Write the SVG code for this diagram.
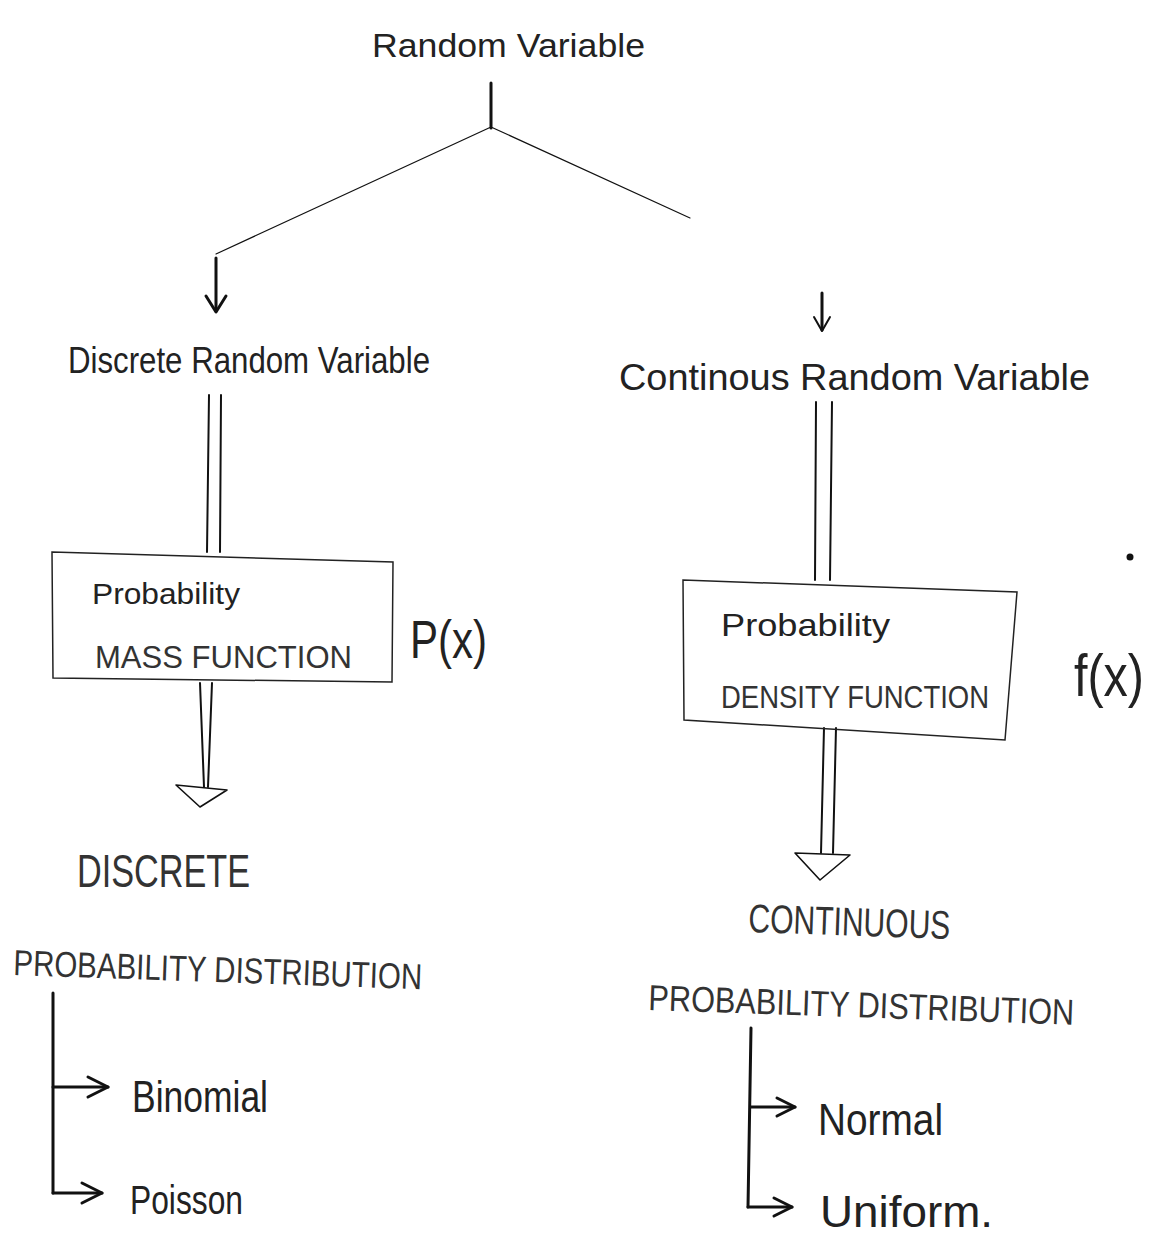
<svg xmlns="http://www.w3.org/2000/svg" width="1151" height="1238" viewBox="0 0 1151 1238">
<style>
.t{font-family:"Liberation Sans","DejaVu Sans",sans-serif;fill:#222;}
.c{fill:#333;}
.ln{stroke:#111;fill:none;stroke-linecap:round;stroke-linejoin:round;}
.thin{stroke-width:1.2;}
.mid{stroke-width:2;}
.thick{stroke-width:3;}
.box{stroke:#222;stroke-width:1.5;fill:none;}
.hol{stroke:#111;stroke-width:1.6;fill:#fff;stroke-linejoin:round;}
</style>
<rect width="1151" height="1238" fill="#fff"/>

<g id="connectors">
  <line class="ln thick" x1="491" y1="83" x2="491" y2="128"/>
  <line class="ln thin" x1="491" y1="127" x2="216" y2="254"/>
  <line class="ln thin" x1="491" y1="127" x2="690" y2="218" stroke="#666"/>
  <line class="ln thick" x1="216" y1="258" x2="216" y2="311"/>
  <path class="ln thick" d="M206,296 L216,312 L226,296"/>
  <line class="ln thick" x1="822" y1="293" x2="822" y2="330"/>
  <path class="ln mid" d="M814,317 L822,331 L830,317"/>
  <line class="ln mid" x1="209" y1="395" x2="207" y2="552"/>
  <line class="ln mid" x1="221" y1="395" x2="220" y2="552"/>
  <line class="ln mid" x1="200" y1="683" x2="204" y2="787"/>
  <line class="ln mid" x1="212" y1="683" x2="208" y2="787"/>
  <path class="hol" d="M176,785 L227,790 L200,807 Z"/>
  <line class="ln mid" x1="816" y1="402" x2="815" y2="580"/>
  <line class="ln mid" x1="832" y1="402" x2="830" y2="580"/>
  <line class="ln mid" x1="824" y1="728" x2="821" y2="853"/>
  <line class="ln mid" x1="836" y1="728" x2="833" y2="853"/>
  <path class="hol" d="M795,853 L850,855 L820,880 Z"/>
  <line class="ln thick" x1="53" y1="993" x2="53" y2="1193"/>
  <line class="ln thick" x1="53" y1="1087" x2="108" y2="1087"/>
  <path class="ln thick" d="M88,1077 L108,1087 L88,1097"/>
  <line class="ln thick" x1="53" y1="1193" x2="102" y2="1193"/>
  <path class="ln thick" d="M82,1183 L102,1193 L82,1203"/>
  <line class="ln thick" x1="751" y1="1028" x2="748" y2="1207"/>
  <line class="ln thick" x1="751" y1="1107" x2="795" y2="1107"/>
  <path class="ln thick" d="M777,1098 L795,1107 L777,1116"/>
  <line class="ln thick" x1="748" y1="1207" x2="792" y2="1207"/>
  <path class="ln thick" d="M774,1198 L792,1207 L774,1216"/>
</g>

<g id="random-variable">
  <text class="t" x="372" y="57" font-size="34" textLength="273" lengthAdjust="spacingAndGlyphs">Random Variable</text>
</g>

<g id="discrete-rv">
  <text class="t" x="68" y="373" font-size="36" textLength="362" lengthAdjust="spacingAndGlyphs">Discrete Random Variable</text>
</g>

<g id="continuous-rv">
  <text class="t" x="619" y="390" font-size="36" textLength="471" lengthAdjust="spacingAndGlyphs">Continous Random Variable</text>
</g>

<g id="pmf">
  <path class="box" d="M52,552 L393,562 L392,682 L53,678 Z"/>
  <text class="t" x="92" y="604" font-size="30" textLength="148" lengthAdjust="spacingAndGlyphs">Probability</text>
  <text class="t c" x="95" y="668" font-size="32" textLength="257" lengthAdjust="spacingAndGlyphs">MASS FUNCTION</text>
</g>

<g id="px">
  <text class="t" x="410" y="658" font-size="54" textLength="77" lengthAdjust="spacingAndGlyphs">P(x)</text>
</g>

<g id="pdf">
  <path class="box" d="M683,580 L1017,592 L1005,740 L684,720 Z"/>
  <text class="t" x="721" y="636" font-size="32" textLength="169" lengthAdjust="spacingAndGlyphs">Probability</text>
  <text class="t c" x="721" y="708" font-size="32" textLength="268" lengthAdjust="spacingAndGlyphs">DENSITY FUNCTION</text>
</g>

<g id="fx">
  <text class="t" transform="translate(1074,696) scale(1,1.2)" x="0" y="0" font-size="50" textLength="70" lengthAdjust="spacingAndGlyphs">f(x)</text>
  <circle cx="1130" cy="557" r="3.5" fill="#111"/>
</g>

<g id="discrete-pd">
  <text class="t c" x="77" y="887" font-size="46" textLength="173" lengthAdjust="spacingAndGlyphs">DISCRETE</text>
  <text class="t c" x="13" y="975" font-size="36" textLength="409" lengthAdjust="spacingAndGlyphs" transform="rotate(2 13 975)">PROBABILITY DISTRIBUTION</text>
</g>

<g id="binomial">
  <text class="t" x="132" y="1112" font-size="44" textLength="136" lengthAdjust="spacingAndGlyphs">Binomial</text>
</g>

<g id="poisson">
  <text class="t" x="130" y="1214" font-size="40" textLength="113" lengthAdjust="spacingAndGlyphs">Poisson</text>
</g>

<g id="continuous-pd">
  <text class="t c" x="748" y="932" font-size="40" textLength="202" lengthAdjust="spacingAndGlyphs" transform="rotate(2 748 932)">CONTINUOUS</text>
  <text class="t c" x="648" y="1010" font-size="36" textLength="426" lengthAdjust="spacingAndGlyphs" transform="rotate(2 648 1010)">PROBABILITY DISTRIBUTION</text>
</g>

<g id="normal">
  <text class="t" x="818" y="1135" font-size="44" textLength="125" lengthAdjust="spacingAndGlyphs">Normal</text>
</g>

<g id="uniform">
  <text class="t" x="820" y="1227" font-size="44" textLength="173" lengthAdjust="spacingAndGlyphs">Uniform.</text>
</g>
</svg>
